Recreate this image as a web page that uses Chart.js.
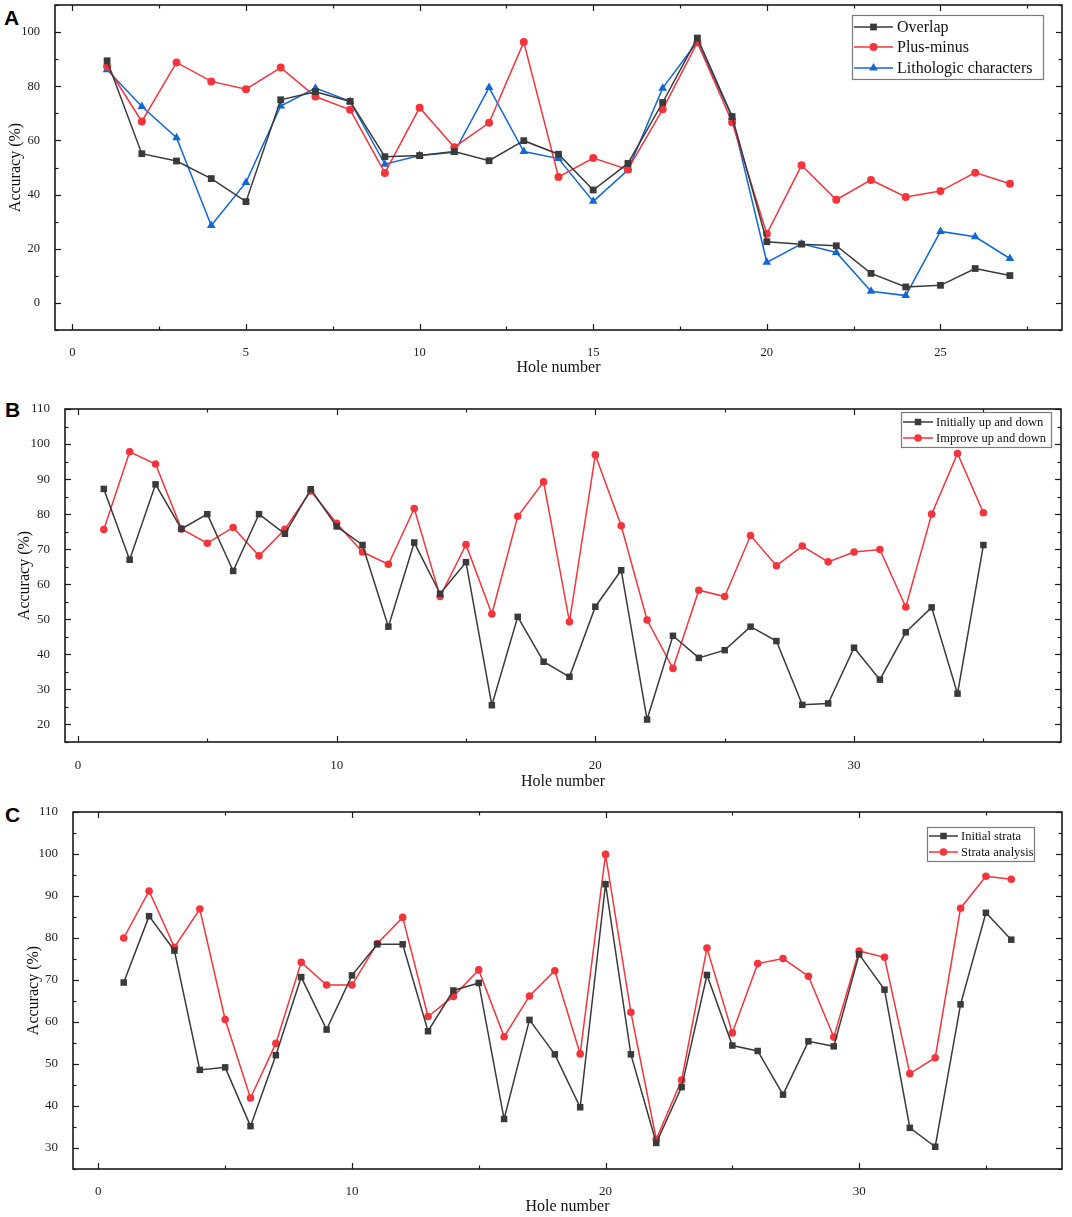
<!DOCTYPE html>
<html>
<head>
<meta charset="utf-8">
<script src="https://cdn.jsdelivr.net/npm/chart.js@4.4.1/dist/chart.umd.min.js"></script>
<style>
  html, body { margin: 0; padding: 0; background: #fff; }
  body { width: 1072px; height: 1217px; position: relative; overflow: hidden; }
  .panel { position: absolute; left: 0; }
  .letter { position: absolute; font: bold 21px "Liberation Sans", Arial, sans-serif; line-height: 21px; color: #000; }
</style>
</head>
<body>
<div class="letter" style="left:4px;top:7px">A</div>
<div class="letter" style="left:5px;top:399px">B</div>
<div class="letter" style="left:5px;top:804px">C</div>
<div class="panel" style="top:0px"><canvas id="chartA" width="1072" height="390"></canvas></div>
<div class="panel" style="top:390px"><canvas id="chartB" width="1072" height="410"></canvas></div>
<div class="panel" style="top:800px"><canvas id="chartC" width="1072" height="417"></canvas></div>
<script>
// ---------- Panel A data ----------
const holesA = [1,2,3,4,5,6,7,8,9,10,11,12,13,14,15,16,17,18,19,20,21,22,23,24,25,26,27];
const overlap = [89.4,55.1,52.4,45.9,37.4,75.0,78.0,74.4,54.0,54.4,55.9,52.5,59.9,54.9,41.7,51.5,74.0,97.8,68.8,22.6,21.7,21.1,10.9,5.9,6.5,12.7,10.1];
const plusMinus = [87.3,67.0,88.8,81.8,78.9,86.9,76.2,71.3,48.0,72.1,57.5,66.5,96.3,46.5,53.5,49.3,71.5,96.2,66.7,25.5,50.8,38.1,45.4,39.1,41.3,48.1,44.0];
const lithologic = [86.1,72.5,61.0,28.6,44.5,72.7,79.3,74.4,51.2,54.4,55.6,79.5,55.9,53.3,37.5,49.1,79.3,96.5,68.6,15.0,21.8,18.6,4.3,2.7,26.4,24.4,16.4];
const xTicksA = [0,5,10,15,20,25];
const yTicksA = [0,20,40,60,80,100];

// ---------- Panel B data ----------
const holesB = [1,2,3,4,5,6,7,8,9,10,11,12,13,14,15,16,17,18,19,20,21,22,23,24,25,26,27,28,29,30,31,32,33,34,35];
const initiallyUpDown = [87.2,67.0,88.5,75.8,80.0,63.8,80.0,74.4,87.1,76.5,71.2,47.9,71.9,57.3,66.3,25.5,50.7,37.9,33.6,53.6,64.0,21.4,45.3,39.0,41.2,47.9,43.8,25.6,26.0,41.9,32.8,46.3,53.4,28.8,71.2];
const improveUpDown = [75.6,97.8,94.3,75.8,71.7,76.2,68.1,75.7,86.6,77.4,69.2,65.7,81.6,56.5,71.3,51.5,79.4,89.2,49.3,96.9,76.7,49.8,36.0,58.3,56.5,73.9,65.3,70.9,66.4,69.2,69.9,53.5,80.0,97.3,80.4];
const xTicksB = [0,10,20,30];
const yTicksB = [20,30,40,50,60,70,80,90,100,110];

// ---------- Panel C data ----------
const holesC = [1,2,3,4,5,6,7,8,9,10,11,12,13,14,15,16,17,18,19,20,21,22,23,24,25,26,27,28,29,30,31,32,33,34,35,36];
const initialStrata = [69.4,85.2,77.0,48.6,49.2,35.2,52.1,70.7,58.2,71.1,78.5,78.5,57.8,67.5,69.3,36.9,60.5,52.3,39.7,92.8,52.3,31.2,44.5,71.2,54.4,53.1,42.7,55.4,54.2,76.1,67.7,34.8,30.3,64.2,86.0,79.6];
const strataAnalysis = [80.0,91.2,77.8,86.9,60.6,41.9,54.9,74.2,68.8,68.8,78.7,84.9,61.3,66.1,72.4,56.5,66.2,72.2,52.4,99.9,62.3,32.1,46.2,77.6,57.4,73.9,75.1,70.9,56.4,76.9,75.4,47.7,51.5,87.1,94.7,94.0];
const xTicksC = [0,10,20,30];
const yTicksC = [30,40,50,60,70,80,90,100,110];

const SERIF = '"Liberation Serif", "Times New Roman", serif';
const BLACK = '#3a3a3a', RED = '#f5343c', BLUE = '#1068d6';

const pts = (xs, ys) => xs.map((x, i) => ({x: x, y: ys[i]}));

// inward major/minor ticks on all four sides + frame
const framePlugin = {
  id: 'frame',
  afterDraw(chart, args, o) {
    const {ctx, chartArea: a} = chart;
    const x = chart.scales.x, y = chart.scales.y;
    ctx.save();
    ctx.strokeStyle = '#1a1a1a';
    ctx.lineWidth = 1.2;
    const seg = (x0, y0, x1, y1) => { ctx.beginPath(); ctx.moveTo(x0, y0); ctx.lineTo(x1, y1); ctx.stroke(); };
    const vals = (sc, step) => { const out = []; for (let k = Math.ceil(sc.min / step - 1e-9); k * step <= sc.max + 1e-9; k++) out.push(k * step); return out; };
    const isMaj = (v, m) => Math.abs(v / m - Math.round(v / m)) < 1e-6;
    vals(x, o.xMinor).forEach(v => {
      const len = isMaj(v, o.xMajor) ? 6 : 3.5;
      const p = Math.round(x.getPixelForValue(v)) + 0.5;
      seg(p, a.bottom, p, a.bottom - len);
      seg(p, a.top, p, a.top + len);
    });
    vals(y, o.yMinor).forEach(v => {
      const len = isMaj(v, o.yMajor) ? 6 : 3.5;
      const p = Math.round(y.getPixelForValue(v)) + 0.5;
      seg(a.left, p, a.left + len, p);
      seg(a.right, p, a.right - len, p);
    });
    ctx.lineWidth = 1.6;
    ctx.strokeRect(a.left, a.top, a.right - a.left, a.bottom - a.top);
    ctx.restore();
  }
};

function drawMarker(ctx, style, r, cx, cy, color) {
  ctx.fillStyle = color;
  ctx.beginPath();
  if (style === 'rect') {
    const s = r * Math.SQRT1_2;
    ctx.rect(cx - s, cy - s, 2 * s, 2 * s);
  } else if (style === 'triangle') {
    const side = 3 * r / Math.sqrt(3), h = side * Math.sqrt(3) / 2;
    ctx.moveTo(cx - side / 2, cy + h / 3);
    ctx.lineTo(cx + side / 2, cy + h / 3);
    ctx.lineTo(cx, cy - 2 * h / 3);
    ctx.closePath();
  } else {
    ctx.arc(cx, cy, r, 0, Math.PI * 2);
  }
  ctx.fill();
}

const legendPlugin = {
  id: 'boxLegend',
  afterDraw(chart, args, o) {
    const ctx = chart.ctx;
    ctx.save();
    ctx.fillStyle = '#fff';
    ctx.fillRect(o.x, o.y, o.w, o.h);
    ctx.strokeStyle = '#7a7a7a';
    ctx.lineWidth = 1.2;
    ctx.strokeRect(o.x + 0.5, o.y + 0.5, o.w, o.h);
    chart.data.datasets.forEach((ds, i) => {
      const cy = o.rows[i];
      ctx.strokeStyle = ds.borderColor;
      ctx.lineWidth = ds.borderWidth;
      ctx.beginPath(); ctx.moveTo(o.l0, cy); ctx.lineTo(o.l1, cy); ctx.stroke();
      drawMarker(ctx, ds.pointStyle, ds.pointRadius, (o.l0 + o.l1) / 2, cy, ds.pointBackgroundColor);
      ctx.fillStyle = '#111';
      ctx.font = o.font;
      ctx.textBaseline = 'middle';
      ctx.textAlign = 'left';
      ctx.fillText(ds.label, o.tx, cy + 1);
    });
    ctx.restore();
  }
};

function ds(label, xs, ys, color, style, r) {
  return {
    label: label, data: pts(xs, ys),
    borderColor: color, backgroundColor: color,
    pointBackgroundColor: color, pointBorderColor: color,
    pointStyle: style, pointRadius: r, pointBorderWidth: 0, pointHoverRadius: r,
    borderWidth: 1.5, tension: 0, fill: false
  };
}

function makeChart(id, cfg) {
  const setTicks = (list) => (scale) => { scale.ticks = list.map(v => ({ value: v })); };
  return new Chart(document.getElementById(id), {
    type: 'line',
    data: { datasets: cfg.datasets },
    options: {
      responsive: false,
      animation: false,
      layout: { padding: { top: cfg.padTop, right: cfg.padRight, left: 0, bottom: 0 } },
      plugins: {
        legend: { display: false },
        tooltip: { enabled: false },
        frame: cfg.frame,
        boxLegend: cfg.legend
      },
      scales: {
        x: {
          type: 'linear', min: cfg.xMin, max: cfg.xMax,
          grid: { display: false }, border: { display: false },
          afterBuildTicks: setTicks(cfg.xTicks),
          afterFit: (s) => { s.height = cfg.xHeight; s.paddingLeft = 0; s.paddingRight = 0; },
          ticks: { autoSkip: false, maxRotation: 0, padding: cfg.xTickPad, color: '#222', font: { family: SERIF, size: cfg.tickSize } },
          title: { display: true, text: 'Hole number', color: '#111', font: { family: SERIF, size: 16 }, padding: { top: 0, bottom: cfg.xTitlePad } }
        },
        y: {
          type: 'linear', min: cfg.yMin, max: cfg.yMax,
          grid: { display: false }, border: { display: false },
          afterBuildTicks: setTicks(cfg.yTicks),
          afterFit: (s) => { s.width = cfg.yWidth; s.paddingTop = 0; s.paddingBottom = 0; },
          ticks: { autoSkip: false, padding: 7, color: '#222', font: { family: SERIF, size: cfg.tickSize } },
          title: { display: true, text: 'Accuracy (%)', color: '#111', font: { family: SERIF, size: 16 }, padding: { top: cfg.yTitlePad, bottom: 0 } }
        }
      }
    },
    plugins: [framePlugin, legendPlugin]
  });
}

makeChart('chartA', {
  datasets: [
    ds('Overlap', holesA, overlap, BLACK, 'rect', 4.8),
    ds('Plus-minus', holesA, plusMinus, RED, 'circle', 4),
    ds('Lithologic characters', holesA, lithologic, BLUE, 'triangle', 5)
  ],
  xMin: -0.5, xMax: 28.5, yMin: -10, yMax: 110,
  xTicks: xTicksA, yTicks: yTicksA,
  padTop: 5, padRight: 10, xHeight: 60, yWidth: 55,
  xTickPad: 7, xTitlePad: 13, yTitlePad: 6, tickSize: 12.5,
  frame: { xMajor: 5, xMinor: 2.5, yMajor: 20, yMinor: 10 },
  legend: { x: 852, y: 15, w: 191, h: 64, rows: [27, 47, 68], l0: 854, l1: 893, tx: 897, font: '16px ' + SERIF }
});

makeChart('chartB', {
  datasets: [
    ds('Initially up and down', holesB, initiallyUpDown, BLACK, 'rect', 4.6),
    ds('Improve up and down', holesB, improveUpDown, RED, 'circle', 3.8)
  ],
  xMin: -0.5, xMax: 38, yMin: 15, yMax: 110,
  xTicks: xTicksB, yTicks: yTicksB,
  padTop: 19, padRight: 11, xHeight: 58, yWidth: 65,
  xTickPad: 8, xTitlePad: 9, yTitlePad: 15, tickSize: 13,
  frame: { xMajor: 10, xMinor: 5, yMajor: 10, yMinor: 5 },
  legend: { x: 901, y: 22, w: 150, h: 35, rows: [32, 48], l0: 903, l1: 933, tx: 936, font: '12.5px ' + SERIF }
});

makeChart('chartC', {
  datasets: [
    ds('Initial strata', holesC, initialStrata, BLACK, 'rect', 4.6),
    ds('Strata analysis', holesC, strataAnalysis, RED, 'circle', 3.8)
  ],
  xMin: -1, xMax: 38, yMin: 25, yMax: 110,
  xTicks: xTicksC, yTicks: yTicksC,
  padTop: 12, padRight: 10, xHeight: 48, yWidth: 73,
  xTickPad: 7, xTitlePad: 1, yTitlePad: 24, tickSize: 13,
  frame: { xMajor: 10, xMinor: 5, yMajor: 10, yMinor: 5 },
  legend: { x: 927, y: 27, w: 107, h: 34, rows: [36, 52], l0: 929, l1: 958, tx: 961, font: '12.5px ' + SERIF }
});
</script>
</body>
</html>
